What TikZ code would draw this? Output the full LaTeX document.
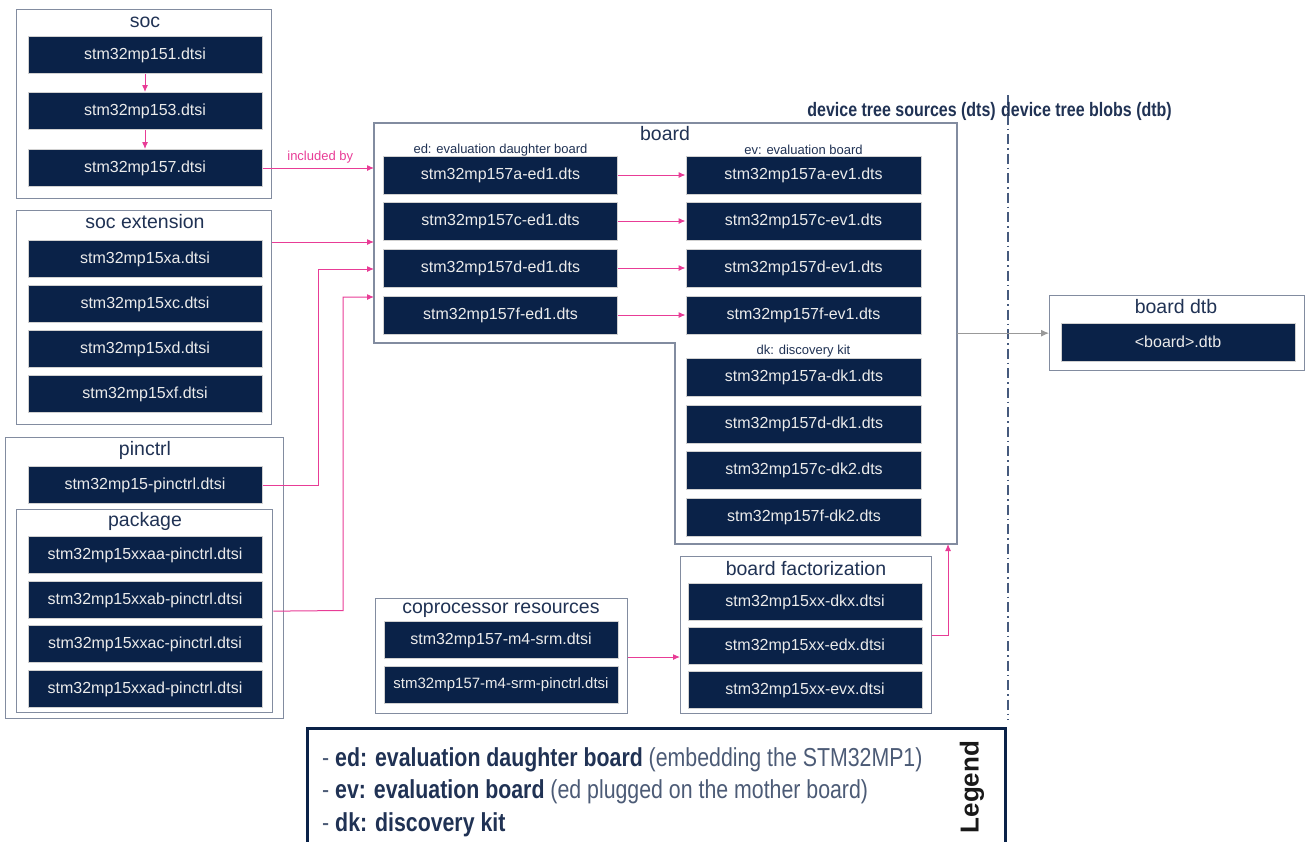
\documentclass[tikz,border=0pt]{standalone}
\usepackage{fontspec}
\setmainfont{Liberation Sans}
\newfontfamily\narrowfont[FakeStretch=0.82]{Liberation Sans}
\usetikzlibrary{arrows.meta}

\definecolor{stnavy}{RGB}{10,34,72}
\definecolor{sttitle}{RGB}{32,50,84}
\definecolor{stframe}{RGB}{130,140,160}
\definecolor{stpink}{RGB}{232,60,150}
\definecolor{stsep}{RGB}{70,90,125}

\tikzset{
  dtsi/.style={fill=stnavy, draw=black!18, line width=1pt, text=white!92!black,
    minimum width=234pt, minimum height=37pt, inner sep=0pt,
    font=\fontsize{16}{18}\selectfont},
  grpbox/.style={draw=stframe, line width=1.3pt, fill=white, inner sep=0pt, anchor=north west},
  grptitle/.style={text=sttitle, inner sep=0pt, font=\fontsize{19.5}{22}\selectfont},
  sublabel/.style={text=sttitle, inner sep=0pt, font=\fontsize{13}{15}\selectfont},
  inc/.style={draw=stpink, line width=1pt, -{Latex[length=7pt,width=6pt]}},
}

\begin{document}
\begin{tikzpicture}[x=1pt, y=-1pt]
  \useasboundingbox (0,0) rectangle (1306,841);

  \newcommand\Xl{145}
  \newcommand\Xed{500.5}
  \newcommand\Xev{803.5}

  %% group frames
  \node[grpbox, minimum width=255pt, minimum height=189pt] (socgrp) at (16,9) {};
  \node[grpbox, minimum width=255pt, minimum height=214pt] (extgrp) at (16,210) {};
  \node[grpbox, minimum width=278pt, minimum height=281pt] (pingrp) at (5,437) {};
  \node[grpbox, minimum width=256pt, minimum height=203pt] (pkggrp) at (16,509) {};
  \node[grpbox, minimum width=252pt, minimum height=115pt] (coprogrp) at (375,598) {};
  \node[grpbox, minimum width=251pt, minimum height=157pt] (bfacgrp) at (680,556) {};
  \node[grpbox, minimum width=255pt, minimum height=75pt] (dtbgrp) at (1049,295) {};

  %% board (L shaped)
  \draw[draw=stframe, line width=1.3pt, fill=white] (374,123) coordinate (bd-nw)
    -- (957,123) coordinate (bd-ne) -- (957,544) coordinate (bd-se)
    -- (675,544) -- (675,343) -- (374,343) -- cycle;
  \coordinate (in1) at (374,168);
  \coordinate (in2) at (374,242);
  \coordinate (in3) at (374,269);
  \coordinate (in4) at (374,297);
  \coordinate (in5) at (948,544);

  %% titles
  \node[grptitle] (soct) at (\Xl,22) {soc};
  \node[grptitle] (extt) at (\Xl,222) {soc extension};
  \node[grptitle] (pint) at (\Xl,450) {pinctrl};
  \node[grptitle] (pkgt) at (\Xl,521) {package};
  \node[grptitle] (boardt) at (665,134) {board};
  \node[grptitle] (coprot) at (501,610) {coprocessor resources};
  \node[grptitle] (bfact) at (806,569) {board factorization};
  \node[grptitle] (dtbt) at (1176,307) {board dtb};
  \node[sublabel] (edlbl) at (\Xed,150) {ed: evaluation daughter board};
  \node[sublabel] (evlbl) at (\Xev,150) {ev: evaluation board};
  \node[sublabel] (dklbl) at (\Xev,351) {dk: discovery kit};

  %% dts / dtb split
  \draw[stsep, line width=2pt, dash pattern=on 10pt off 4pt on 1.5pt off 4pt] (1008,95) -- (1008,720);
  \node[anchor=east, text=sttitle, inner sep=0pt, font=\narrowfont\bfseries\fontsize{19.5}{22}\selectfont] (dtslbl) at (996,111) {device tree sources (dts)};
  \node[anchor=west, text=sttitle, inner sep=0pt, font=\narrowfont\bfseries\fontsize{19.5}{22}\selectfont] (dtblbl) at (1001,111) {device tree blobs (dtb)};

  %% files
  \foreach \n/\y/\t in {1/55/stm32mp151.dtsi, 2/111/stm32mp153.dtsi, 3/168/stm32mp157.dtsi}
    \node[dtsi] (soc\n) at (\Xl,\y) {\t};
  \foreach \n/\y/\t in {a/259/stm32mp15xa.dtsi, c/304/stm32mp15xc.dtsi, d/349/stm32mp15xd.dtsi, f/394/stm32mp15xf.dtsi}
    \node[dtsi] (ext\n) at (\Xl,\y) {\t};
  \node[dtsi] (pin) at (\Xl,485) {stm32mp15-pinctrl.dtsi};
  \foreach \n/\y in {a/555,b/600,c/644,d/689}
    \node[dtsi] (pkg\n) at (\Xl,\y) {stm32mp15xxa\n-pinctrl.dtsi};
  \foreach \n/\y in {a/175,c/221,d/268,f/315} {
    \node[dtsi, minimum height=38pt] (ed\n) at (\Xed,\y) {stm32mp157\n-ed1.dts};
    \node[dtsi, minimum height=38pt, minimum width=235pt] (ev\n) at (\Xev,\y) {stm32mp157\n-ev1.dts};
  }
  \foreach \n/\y/\t in {a1/377/stm32mp157a-dk1.dts, d1/424/stm32mp157d-dk1.dts, c2/470.5/stm32mp157c-dk2.dts, f2/517/stm32mp157f-dk2.dts}
    \node[dtsi, minimum height=38pt, minimum width=235pt] (dk\n) at (804,\y) {\t};
  \node[dtsi] (srm) at (501,640) {stm32mp157-m4-srm.dtsi};
  \node[dtsi, font=\fontsize{15}{18}\selectfont] (srmpin) at (501,685) {stm32mp157-m4-srm-pinctrl.dtsi};
  \foreach \n/\y in {dkx/602,edx/646,evx/690}
    \node[dtsi] (\n) at (805,\y) {stm32mp15xx-\n.dtsi};
  \node[dtsi, minimum height=38pt] (blob) at (1178,342) {<board>.dtb};

  %% connectors
  \draw[inc] (soc1) -- (soc2);
  \draw[inc] (soc2) -- (soc3);
  \draw[inc] (soc3.east) -- node[above, text=stpink, inner sep=2pt, font=\fontsize{13}{15}\selectfont, xshift=2pt, yshift=2pt] {included by} (in1); %% soc -> board
  \draw[inc] (extgrp.north east |- in2) -- (in2); %% soc ext -> board
  \draw[inc] (pin.east) -- (318,485) |- (in3); %% pinctrl -> board
  \draw[inc] (pkggrp.east) -- (343,610.5) |- (in4); %% package -> board
  \foreach \n in {a,c,d,f}
    \draw[inc] (ed\n) -- (ev\n);
  \draw[inc] (coprogrp.north east |- 0,657) -- (bfacgrp.north west |- 0,657); %% copro -> factorization
  \draw[inc] (bfacgrp.east) -| (in5); %% factorization -> board
  \draw[draw=black!40, line width=1pt, -{Latex[length=8pt,width=7pt]}] (bd-ne |- dtbgrp.west) -- (dtbgrp.west);

  %% legend
  \node[draw=stnavy, line width=3pt, anchor=north west, minimum width=698pt, minimum height=130pt, inner sep=0pt] (legend) at (306,727) {};
  \begin{scope}[every node/.style={anchor=west, inner sep=0pt, text=sttitle!80, font=\narrowfont\fontsize{26}{28}\selectfont}]
    \node (lg1) at (322,760) {- \textcolor{sttitle}{\bfseries ed: evaluation daughter board} (embedding\ the STM32MP1)};
    \node (lg2) at (322,792) {- \textcolor{sttitle}{\bfseries ev: evaluation board} (ed plugged on the mother board)};
    \node (lg3) at (322,825) {- \textcolor{sttitle}{\bfseries dk: discovery\ kit}};
  \end{scope}
  \node[rotate=90, inner sep=0pt, text=black!90, font=\bfseries\fontsize{26}{28}\selectfont] (lgt) at (972,787) {Legend};
\end{tikzpicture}
\end{document}
